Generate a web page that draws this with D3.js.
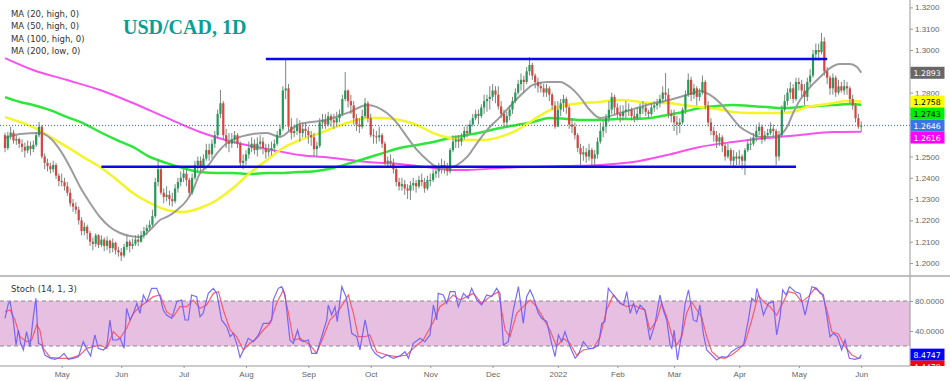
<!DOCTYPE html>
<html>
<head>
<meta charset="utf-8">
<script src="https://cdn.jsdelivr.net/npm/d3@7"></script>
<style>
  body { margin: 0; background: #fff; }
  svg { display: block; font-family: "Liberation Sans", Arial, sans-serif; }
</style>
</head>
<body>
<div id="chart"></div>
<script>
// trading days (Mon-Fri) from first to last bar
const firstDay = "2021-04-05";
const stopDay = "2022-06-02"; // exclusive
const firstOpen = 1.2600;

// daily closes, one row per week
const close = [
  1.2540, 1.2598, 1.2612, 1.2575, 1.2582,
  1.2560, 1.2545, 1.2528, 1.2550, 1.2535,
  1.2555, 1.2600, 1.2640, 1.2500, 1.2470,
  1.2455, 1.2440, 1.2460, 1.2410, 1.2385,
  1.2380, 1.2360, 1.2330, 1.2280, 1.2265,
  1.2250, 1.2200, 1.2150, 1.2170, 1.2140,
  1.2100, 1.2090, 1.2130, 1.2085, 1.2110,
  1.2080, 1.2105, 1.2070, 1.2095, 1.2060,
  1.2050, 1.2035, 1.2075, 1.2100, 1.2080,
  1.2090, 1.2110, 1.2100, 1.2130, 1.2150,
  1.2165, 1.2180, 1.2220, 1.2380, 1.2440,
  1.2330, 1.2310, 1.2320, 1.2300, 1.2290,
  1.2350, 1.2380, 1.2400, 1.2420, 1.2390,
  1.2330, 1.2400, 1.2460, 1.2480, 1.2450,
  1.2490, 1.2530, 1.2510, 1.2560, 1.2600,
  1.2700, 1.2750, 1.2600, 1.2570, 1.2560,
  1.2580, 1.2600, 1.2560, 1.2470, 1.2480,
  1.2510, 1.2540, 1.2560, 1.2530, 1.2560,
  1.2570, 1.2540, 1.2520, 1.2530, 1.2540,
  1.2560, 1.2600, 1.2630, 1.2810, 1.2820,
  1.2640, 1.2610, 1.2620, 1.2650, 1.2610,
  1.2630, 1.2620, 1.2600, 1.2590, 1.2535,
  1.2550, 1.2660, 1.2670, 1.2650, 1.2690,
  1.2670, 1.2660, 1.2680, 1.2700, 1.2770,
  1.2810, 1.2760, 1.2740, 1.2680, 1.2650,
  1.2640, 1.2690, 1.2750, 1.2680, 1.2600,
  1.2595, 1.2590, 1.2600, 1.2560, 1.2470,
  1.2480, 1.2470, 1.2440, 1.2380, 1.2360,
  1.2370, 1.2350, 1.2340, 1.2365, 1.2375,
  1.2360, 1.2390, 1.2380, 1.2350, 1.2390,
  1.2390, 1.2420, 1.2430, 1.2450, 1.2460,
  1.2450, 1.2430, 1.2530, 1.2570, 1.2580,
  1.2570, 1.2590, 1.2620, 1.2610, 1.2650,
  1.2680, 1.2700, 1.2690, 1.2730, 1.2760,
  1.2770, 1.2780, 1.2810, 1.2790, 1.2735,
  1.2700, 1.2660, 1.2690, 1.2720, 1.2760,
  1.2800, 1.2840, 1.2860, 1.2850, 1.2900,
  1.2930, 1.2880, 1.2850, 1.2830, 1.2820,
  1.2800, 1.2820, 1.2790, 1.2740, 1.2640,
  1.2720, 1.2750, 1.2770, 1.2730, 1.2650,
  1.2640, 1.2600, 1.2540, 1.2510, 1.2520,
  1.2500, 1.2530, 1.2490, 1.2510, 1.2570,
  1.2620, 1.2640, 1.2680, 1.2720, 1.2780,
  1.2730, 1.2700, 1.2690, 1.2710, 1.2720,
  1.2720, 1.2690, 1.2680, 1.2700, 1.2730,
  1.2730, 1.2710, 1.2700, 1.2730, 1.2740,
  1.2750, 1.2770, 1.2800, 1.2790, 1.2700,
  1.2690, 1.2660, 1.2650, 1.2660, 1.2720,
  1.2790, 1.2860, 1.2790, 1.2820, 1.2780,
  1.2800, 1.2850, 1.2740, 1.2660, 1.2620,
  1.2600, 1.2570, 1.2590, 1.2550, 1.2500,
  1.2530, 1.2480, 1.2500, 1.2490, 1.2500,
  1.2480, 1.2530, 1.2560, 1.2560, 1.2590,
  1.2620, 1.2640, 1.2580, 1.2600, 1.2610,
  1.2630, 1.2620, 1.2500, 1.2600, 1.2720,
  1.2760, 1.2800, 1.2820, 1.2770, 1.2850,
  1.2840, 1.2810, 1.2780, 1.2850, 1.2880,
  1.2980, 1.3000, 1.2990, 1.3040, 1.2900,
  1.2870, 1.2820, 1.2870, 1.2800, 1.2830,
  1.2810, 1.2830, 1.2820, 1.2770, 1.2740,
  1.2680, 1.2640, 1.2646
];

const high = [
  1.2612, 1.2615, 1.2640, 1.2625, 1.2600,
  1.2590, 1.2580, 1.2565, 1.2575, 1.2570,
  1.2575, 1.2615, 1.2662, 1.2648, 1.2515,
  1.2490, 1.2470, 1.2480, 1.2470, 1.2420,
  1.2420, 1.2400, 1.2380, 1.2350, 1.2300,
  1.2285, 1.2265, 1.2215, 1.2190, 1.2180,
  1.2150, 1.2120, 1.2140, 1.2135, 1.2130,
  1.2120, 1.2125, 1.2110, 1.2115, 1.2100,
  1.2075, 1.2070, 1.2090, 1.2130, 1.2110,
  1.2115, 1.2130, 1.2135, 1.2150, 1.2170,
  1.2180, 1.2200, 1.2250, 1.2400, 1.2487,
  1.2450, 1.2350, 1.2360, 1.2340, 1.2330,
  1.2370, 1.2400, 1.2430, 1.2440, 1.2440,
  1.2400, 1.2420, 1.2480, 1.2500, 1.2500,
  1.2510, 1.2560, 1.2560, 1.2580, 1.2620,
  1.2720, 1.2812, 1.2760, 1.2630, 1.2610,
  1.2610, 1.2620, 1.2610, 1.2570, 1.2510,
  1.2530, 1.2570, 1.2590, 1.2580, 1.2590,
  1.2600, 1.2590, 1.2560, 1.2560, 1.2570,
  1.2580, 1.2620, 1.2650, 1.2830, 1.2955,
  1.2840, 1.2680, 1.2650, 1.2680, 1.2670,
  1.2660, 1.2660, 1.2640, 1.2620, 1.2610,
  1.2570, 1.2680, 1.2700, 1.2700, 1.2710,
  1.2700, 1.2700, 1.2710, 1.2720, 1.2790,
  1.2897, 1.2815, 1.2790, 1.2760, 1.2700,
  1.2680, 1.2720, 1.2775, 1.2760, 1.2700,
  1.2630, 1.2620, 1.2640, 1.2610, 1.2570,
  1.2500, 1.2510, 1.2490, 1.2450, 1.2400,
  1.2400, 1.2390, 1.2370, 1.2385, 1.2400,
  1.2390, 1.2410, 1.2420, 1.2400, 1.2410,
  1.2420, 1.2440, 1.2460, 1.2470, 1.2490,
  1.2480, 1.2470, 1.2540, 1.2600, 1.2600,
  1.2600, 1.2610, 1.2640, 1.2650, 1.2670,
  1.2700, 1.2720, 1.2720, 1.2745, 1.2790,
  1.2790, 1.2830, 1.2840, 1.2830, 1.2830,
  1.2760, 1.2720, 1.2710, 1.2740, 1.2780,
  1.2820, 1.2860, 1.2890, 1.2880, 1.2920,
  1.2967, 1.2940, 1.2890, 1.2870, 1.2850,
  1.2840, 1.2840, 1.2830, 1.2800, 1.2760,
  1.2760, 1.2770, 1.2790, 1.2780, 1.2740,
  1.2680, 1.2660, 1.2610, 1.2560, 1.2550,
  1.2540, 1.2560, 1.2540, 1.2530, 1.2590,
  1.2660, 1.2670, 1.2700, 1.2760, 1.2800,
  1.2790, 1.2750, 1.2740, 1.2740, 1.2760,
  1.2750, 1.2730, 1.2720, 1.2730, 1.2750,
  1.2760, 1.2750, 1.2720, 1.2750, 1.2760,
  1.2770, 1.2790, 1.2830, 1.2892, 1.2820,
  1.2720, 1.2720, 1.2690, 1.2680, 1.2730,
  1.2810, 1.2890, 1.2875, 1.2840, 1.2830,
  1.2820, 1.2880, 1.2860, 1.2760, 1.2680,
  1.2640, 1.2620, 1.2610, 1.2600, 1.2560,
  1.2560, 1.2540, 1.2530, 1.2520, 1.2530,
  1.2510, 1.2540, 1.2580, 1.2590, 1.2610,
  1.2650, 1.2660, 1.2650, 1.2620, 1.2630,
  1.2660, 1.2650, 1.2630, 1.2620, 1.2740,
  1.2790, 1.2820, 1.2850, 1.2840, 1.2870,
  1.2870, 1.2860, 1.2840, 1.2870, 1.2910,
  1.3000, 1.3030, 1.3030, 1.3080, 1.3060,
  1.2920, 1.2880, 1.2890, 1.2880, 1.2860,
  1.2850, 1.2860, 1.2850, 1.2830, 1.2790,
  1.2750, 1.2700, 1.2665
];

const low = [
  1.2520, 1.2530, 1.2580, 1.2560, 1.2555,
  1.2540, 1.2520, 1.2495, 1.2515, 1.2505,
  1.2520, 1.2545, 1.2590, 1.2490, 1.2440,
  1.2430, 1.2420, 1.2425, 1.2395, 1.2360,
  1.2360, 1.2340, 1.2315, 1.2265, 1.2240,
  1.2230, 1.2180, 1.2130, 1.2130, 1.2110,
  1.2080, 1.2060, 1.2075, 1.2070, 1.2075,
  1.2055, 1.2060, 1.2045, 1.2050, 1.2040,
  1.2030, 1.2009, 1.2025, 1.2060, 1.2050,
  1.2065, 1.2080, 1.2080, 1.2095, 1.2115,
  1.2130, 1.2150, 1.2170, 1.2210, 1.2360,
  1.2320, 1.2280, 1.2290, 1.2270, 1.2265,
  1.2280, 1.2330, 1.2360, 1.2380, 1.2360,
  1.2310, 1.2320, 1.2390, 1.2430, 1.2420,
  1.2440, 1.2480, 1.2480, 1.2490, 1.2540,
  1.2590, 1.2680, 1.2580, 1.2540, 1.2520,
  1.2540, 1.2560, 1.2540, 1.2450, 1.2440,
  1.2460, 1.2490, 1.2520, 1.2510, 1.2500,
  1.2530, 1.2510, 1.2490, 1.2500, 1.2505,
  1.2520, 1.2550, 1.2590, 1.2620, 1.2770,
  1.2620, 1.2580, 1.2590, 1.2600, 1.2570,
  1.2590, 1.2590, 1.2560, 1.2550, 1.2500,
  1.2500, 1.2540, 1.2630, 1.2630, 1.2640,
  1.2640, 1.2630, 1.2640, 1.2660, 1.2690,
  1.2760, 1.2730, 1.2700, 1.2650, 1.2620,
  1.2610, 1.2630, 1.2680, 1.2660, 1.2590,
  1.2560, 1.2560, 1.2570, 1.2540, 1.2460,
  1.2450, 1.2450, 1.2420, 1.2360, 1.2340,
  1.2340, 1.2320, 1.2300, 1.2296, 1.2340,
  1.2330, 1.2350, 1.2360, 1.2330, 1.2340,
  1.2360, 1.2380, 1.2400, 1.2400, 1.2420,
  1.2420, 1.2410, 1.2420, 1.2520, 1.2540,
  1.2540, 1.2550, 1.2580, 1.2590, 1.2600,
  1.2640, 1.2670, 1.2650, 1.2680, 1.2700,
  1.2710, 1.2720, 1.2760, 1.2750, 1.2720,
  1.2680, 1.2640, 1.2640, 1.2670, 1.2700,
  1.2750, 1.2790, 1.2810, 1.2800, 1.2840,
  1.2880, 1.2860, 1.2820, 1.2800, 1.2800,
  1.2780, 1.2780, 1.2760, 1.2720, 1.2630,
  1.2640, 1.2690, 1.2710, 1.2700, 1.2630,
  1.2610, 1.2580, 1.2520, 1.2460, 1.2480,
  1.2470, 1.2480, 1.2450, 1.2450, 1.2490,
  1.2560, 1.2590, 1.2610, 1.2660, 1.2700,
  1.2700, 1.2680, 1.2660, 1.2670, 1.2680,
  1.2690, 1.2670, 1.2660, 1.2670, 1.2680,
  1.2700, 1.2690, 1.2680, 1.2690, 1.2710,
  1.2720, 1.2730, 1.2750, 1.2760, 1.2680,
  1.2660, 1.2620, 1.2600, 1.2610, 1.2650,
  1.2700, 1.2780, 1.2760, 1.2770, 1.2740,
  1.2760, 1.2790, 1.2720, 1.2640, 1.2600,
  1.2570, 1.2540, 1.2550, 1.2520, 1.2480,
  1.2490, 1.2460, 1.2445, 1.2460, 1.2460,
  1.2440, 1.2413, 1.2520, 1.2530, 1.2550,
  1.2570, 1.2600, 1.2560, 1.2570, 1.2590,
  1.2600, 1.2590, 1.2460, 1.2480, 1.2590,
  1.2710, 1.2740, 1.2770, 1.2750, 1.2760,
  1.2810, 1.2780, 1.2740, 1.2760, 1.2830,
  1.2870, 1.2950, 1.2950, 1.2980, 1.2880,
  1.2840, 1.2790, 1.2790, 1.2780, 1.2790,
  1.2800, 1.2790, 1.2790, 1.2750, 1.2720,
  1.2660, 1.2630, 1.2616
];

// moving averages: [bar, price]
const ma20High = [[0,1.2587],[5.3,1.2606],[12.3,1.2610],[15.9,1.2587],[19.4,1.2531],[22.9,1.2451],[26.5,1.2357],[30,1.2282],[33.5,1.2216],[37,1.2169],[40.6,1.2141],[44.1,1.2127],[47.6,1.2122],[50,1.2141],[52.2,1.2169],[54.7,1.2202],[57.1,1.2216],[60.7,1.2249],[64.2,1.2296],[66.3,1.2343],[68.8,1.2423],[71.3,1.2451],[74.8,1.2516],[78.3,1.2563],[82.9,1.2592],[87.5,1.2606],[92.4,1.2610],[97,1.2592],[101.6,1.2634],[104,1.2653],[111,1.2667],[115.7,1.2681],[121.7,1.2709],[127.7,1.2742],[131.2,1.2732],[134.7,1.2704],[138.3,1.2657],[141.8,1.2592],[145.3,1.2531],[148.9,1.2484],[152.4,1.2451],[155.9,1.2446],[159.4,1.2460],[163,1.2498],[166.5,1.2563],[170,1.2624],[174.6,1.2685],[179.2,1.2751],[182.7,1.2798],[186.2,1.2836],[191.2,1.2850],[195.8,1.2850],[199.3,1.2826],[202.8,1.2779],[206.3,1.2718],[209.9,1.2681],[216.9,1.2704],[226.5,1.2742],[235.6,1.2770],[242.7,1.2798],[245.1,1.2808],[248.7,1.2789],[252.2,1.2751],[255.7,1.2695],[259.3,1.2638],[262.8,1.2610],[266.3,1.2592],[269.8,1.2592],[273.4,1.2601],[275.8,1.2638],[278,1.2704],[280.4,1.2765],[284,1.2826],[287.5,1.2873],[291,1.2915],[294.5,1.2934],[298,1.2934],[300.5,1.2920],[302,1.2893]];
const ma50High = [[0,1.2685],[5.3,1.2662],[9.9,1.2638],[15.9,1.2592],[21.9,1.2545],[27.5,1.2498],[33.5,1.2451],[39.5,1.2390],[45.1,1.2329],[51.1,1.2282],[57.1,1.2249],[62.8,1.2239],[68.8,1.2258],[74.8,1.2296],[80.4,1.2352],[86.4,1.2423],[92.4,1.2484],[98.1,1.2540],[104,1.2577],[111,1.2610],[115.7,1.2634],[121.7,1.2662],[127.7,1.2681],[133.3,1.2681],[139.3,1.2671],[145.3,1.2648],[151,1.2610],[157,1.2587],[163,1.2577],[168.6,1.2577],[174.6,1.2592],[180.6,1.2624],[186.2,1.2671],[192.2,1.2718],[198.2,1.2742],[203.9,1.2751],[209.9,1.2756],[215.9,1.2765],[221.5,1.2761],[227.5,1.2751],[233.5,1.2751],[239.2,1.2742],[245.1,1.2732],[251.1,1.2723],[256.8,1.2709],[262.8,1.2704],[268.8,1.2704],[273.4,1.2704],[278,1.2709],[282.9,1.2732],[287.5,1.2742],[292.1,1.2751],[297,1.2761],[302,1.2758]];
const ma100High = [[0,1.2779],[5.3,1.2756],[9.9,1.2742],[15.9,1.2718],[21.9,1.2685],[27.5,1.2657],[33.5,1.2615],[39.5,1.2577],[45.1,1.2545],[51.1,1.2498],[57.1,1.2469],[62.8,1.2446],[68.8,1.2427],[74.8,1.2423],[80.4,1.2423],[86.4,1.2418],[92.4,1.2423],[98.1,1.2423],[104,1.2427],[110,1.2432],[115.7,1.2446],[121.7,1.2469],[127.7,1.2493],[133.3,1.2516],[139.3,1.2540],[145.3,1.2554],[151,1.2568],[157,1.2587],[163,1.2601],[168.6,1.2615],[174.6,1.2634],[180.6,1.2648],[186.2,1.2662],[192.2,1.2681],[198.2,1.2676],[203.9,1.2671],[209.9,1.2671],[215.9,1.2676],[221.5,1.2676],[227.5,1.2681],[233.5,1.2695],[239.2,1.2709],[245.1,1.2728],[251.1,1.2737],[256.8,1.2742],[262.8,1.2737],[268.8,1.2732],[274.4,1.2728],[280.4,1.2732],[286.4,1.2737],[292.1,1.2742],[298,1.2746],[302,1.2743]];
const ma200Low = [[0,1.2962],[9.9,1.2906],[21.9,1.2859],[33.5,1.2812],[45.1,1.2751],[57.1,1.2681],[68.8,1.2615],[80.4,1.2568],[92.4,1.2535],[104,1.2507],[115.7,1.2493],[127.7,1.2474],[139.3,1.2465],[151,1.2446],[157,1.2437],[163,1.2437],[174.6,1.2446],[186.2,1.2451],[198.2,1.2455],[209.9,1.2460],[221.5,1.2474],[233.5,1.2507],[245.1,1.2545],[256.8,1.2568],[268.8,1.2587],[280.4,1.2601],[292.1,1.2615],[302,1.2616]];

// stochastic (14,1,3): [bar, value]
const stochK = [[0,56.9],[1.2,76.9],[1.8,79.1],[2.9,54.7],[3.9,21.3],[4.7,41.3],[5.5,23.6],[6.5,14.7],[7.6,39.1],[8.8,19.1],[10,59.1],[10.9,83.6],[11.8,23.6],[12.9,21.3],[14.1,8],[15.9,3.6],[17.6,2.2],[19.4,4.9],[20.8,10.2],[22.3,2.2],[24.1,3.6],[25.9,5.8],[27.6,25.8],[29,14.7],[30.2,6.7],[31.7,34.7],[32.9,16.9],[34.7,14.7],[35.9,19.1],[37,54.7],[38,28],[39.4,28],[40.6,30.2],[42,16.9],[42.9,70.2],[44.1,54.7],[45.3,63.6],[46.5,76.9],[47.6,63.6],[48.8,88],[50,79.1],[51.7,96.9],[53.5,96.9],[54.7,85.8],[55.8,68],[57,61.3],[58.8,56.9],[60.6,79.1],[62.3,81.3],[63.5,54.7],[64.7,54.7],[65.8,88],[67.6,85.8],[68.8,59.1],[69.9,63.6],[71.7,90.2],[73.5,96.9],[74.7,90.2],[76.4,54.7],[78.2,45.8],[79.4,32.4],[80.5,36.9],[81.7,23.6],[82.9,4.9],[84.1,14.7],[85.8,30.2],[87.6,25.8],[89.4,34.7],[91.1,50.2],[92.9,50.2],[94.1,54.7],[94.6,81.3],[96.4,96.9],[97.6,99.1],[98.8,88],[100.5,28],[101.7,23.6],[103.2,41.3],[104.1,28],[105.2,25.8],[107,28],[108.2,10.2],[109.9,10.2],[111.7,32.4],[113.5,54.7],[114,74.7],[115.2,61.3],[116.4,72.4],[117.2,52.4],[118.8,99.1],[120.5,83.6],[122.3,36.9],[124.1,32.4],[125.2,14.7],[127,54.7],[128.2,32.4],[129.3,16.9],[130.5,10.2],[132.9,3.6],[134.6,8],[137,3.6],[139.3,6.7],[141.1,12.4],[142.3,3.6],[144,23.6],[146.4,30.2],[148.1,25.8],[149.9,34.7],[151.1,74.7],[152.3,54.7],[152.8,90.2],[154.6,88],[155.8,76.9],[157,92.4],[158.7,92.4],[159.9,72.4],[161.7,90.2],[163.4,83.6],[164.6,96.9],[166.4,81.3],[168.1,74.7],[169.9,88],[171.7,85.8],[173.4,96.9],[174.6,90.2],[175.8,21.3],[177.5,25.8],[179.3,68],[181.1,99.1],[182.8,50.2],[184,85.8],[185.2,94.7],[186.3,85.8],[188.1,63.6],[189.3,56.9],[191.1,52.4],[192.8,23.6],[194,5.8],[195.2,34.7],[196.4,25.8],[197.5,39.1],[199.3,19.1],[201.1,3.6],[202.2,8],[204,25.8],[205.8,16.9],[207.5,16.9],[209.3,21.3],[210.5,50.2],[211.6,52.4],[212.8,96.9],[214.6,88],[217,76.9],[218.2,74.7],[219.3,92.4],[220.5,63.6],[221.7,76.9],[222.8,63.6],[224,74.7],[225.7,68],[227.5,28],[229.3,50.2],[231,88],[232.2,68],[233.4,54.7],[234.6,21.3],[235.2,16.9],[236,41.3],[237.2,1.3],[238.7,36.9],[239.9,76.9],[241.1,94.7],[242.8,54.7],[244,52.4],[245.1,74.7],[246.3,36.9],[247.5,14.7],[249.3,8],[251,1.3],[252.8,5.8],[254.6,4.9],[256.3,12.4],[258.1,16.9],[260.5,21.3],[262.2,54.7],[263.4,83.6],[264.6,79.1],[265.2,96.9],[266.4,81.3],[267.5,61.3],[269.3,76.9],[271,79.1],[272.2,34.7],[273.4,59.1],[274.3,94.7],[275.5,88],[276.7,99.1],[278.7,92.4],[280.4,90.2],[282.2,61.3],[283.4,81.3],[284.6,99.1],[286.3,96.9],[287.5,90.2],[288.7,88],[291,32.4],[292.2,36.9],[293.6,32.4],[295.1,14.7],[296.3,28],[297.8,3.6],[299.8,2.2],[301.3,3.6],[302,8.4747]];
const stochD = [[0,65.8],[1.8,68],[3.5,54.7],[5.3,32.4],[7.6,25.8],[9.4,28],[11.2,48],[12.3,41.3],[13.5,16.9],[15.9,4.9],[19.4,3.6],[22.9,3.6],[26.5,8],[28.8,16.9],[31.2,19.1],[33.5,21.3],[35.9,16.9],[38.2,39.1],[40.6,30.2],[42.9,43.6],[45.3,63.6],[47.6,72.4],[50,79.1],[52.3,85.8],[54.7,88],[57,65.8],[59.4,59.1],[61.7,72.4],[64.1,72.4],[66.4,81.3],[68.8,70.2],[71.1,74.7],[73.5,90.2],[75.3,92.4],[77,68],[79.4,41.3],[81.7,32.4],[84.1,14.7],[86.4,23.6],[88.8,30.2],[91.1,41.3],[93.5,50.2],[95.8,76.9],[98.2,94.7],[100,63.6],[101.7,28],[104.1,30.2],[107.6,21.3],[109.9,10.2],[112.3,32.4],[114.6,54.7],[117,63.6],[119.3,76.9],[121.1,88],[122.9,63.6],[124.6,32.4],[127,32.4],[128.7,34.7],[131.1,12.4],[134.6,8],[138.2,5.8],[141.7,8],[144,16.9],[147.5,28],[151.1,52.4],[153.4,72.4],[155.8,79.1],[158.1,88],[160.5,81.3],[162.9,85.8],[165.2,90.2],[168.1,76.9],[171.1,85.8],[174,92.4],[176.4,41.3],[178.1,32.4],[180.5,63.6],[182.8,72.4],[185.2,81.3],[187.5,72.4],[189.9,56.9],[192.2,41.3],[194.6,19.1],[196.9,30.2],[199.3,23.6],[201.6,8],[204,14.7],[207.5,16.9],[209.9,32.4],[212.2,68],[214.6,88],[217,76.9],[219.3,72.4],[221.7,74.7],[224,70.2],[225.7,68],[227.5,41.3],[229.9,54.7],[231.6,76.9],[233.4,59.1],[235.2,34.7],[236.9,21.3],[238.7,32.4],[240.4,63.6],[242.2,79.1],[244,68],[245.7,59.1],[247.5,32.4],[249.3,12.4],[251.6,4.9],[253.9,3.6],[256.3,8],[258.6,14.7],[261,23.6],[263.4,54.7],[265.7,88],[267.5,79.1],[269.8,72.4],[272.2,61.3],[274.5,79.1],[276.3,92.4],[278.7,90.2],[281,79.1],[283.4,85.8],[285.7,96.9],[288.1,90.2],[289.9,68],[291.6,39.1],[294,35.6],[296.3,19.1],[298.7,8],[301,3.6],[302,4.4478]];

// drawn support / resistance lines
const levelPrice = [1.2958, 1.2452];
const levelFrom = ["2021-08-11", "2021-05-21"];
const levelTo = ["2022-05-16", "2022-04-29"];

// axis ticks
const priceTicks = [1.20, 1.21, 1.22, 1.23, 1.24, 1.25, 1.26, 1.27, 1.28, 1.29, 1.30, 1.31, 1.32];
const stochTicks = [40, 80];
const monthDates = ["2021-05-03","2021-06-01","2021-07-01","2021-08-02","2021-09-01","2021-10-01","2021-11-01","2021-12-01","2022-01-03","2022-02-01","2022-03-01","2022-04-01","2022-05-02","2022-06-01"];
const monthLabels = ["May","Jun","Jul","Aug","Sep","Oct","Nov","Dec","2022","Feb","Mar","Apr","May","Jun"];

const legendLabels = ["MA (20, high, 0)", "MA (50, high, 0)", "MA (100, high, 0)", "MA (200, low, 0)"];

// ---------------------------------------------------------------
const W = 950, H = 381, axisX = 910;
const parseDate = d3.timeParse("%Y-%m-%d");
const fmtDate = d3.timeFormat("%Y-%m-%d");
const days = d3.timeDay.range(parseDate(firstDay), parseDate(stopDay))
  .filter(d => d.getDay() !== 0 && d.getDay() !== 6);
const barOf = s => days.findIndex(d => fmtDate(d) === s);

const svg = d3.select("#chart").append("svg").attr("width", W).attr("height", H);

const x = d3.scaleLinear().domain([0, close.length - 1]).range([5, 861.2]);
const y = d3.scaleLinear().domain([1.2, 1.3]).range([263, 50]);
const ys = d3.scaleLinear().domain([0, 100]).range([361, 286]);

const defs = svg.append("defs");
defs.append("clipPath").attr("id", "clipPrice").append("rect")
  .attr("x", 0).attr("y", 0).attr("width", axisX).attr("height", 275);
defs.append("clipPath").attr("id", "clipStoch").append("rect")
  .attr("x", 0).attr("y", 277).attr("width", W).attr("height", 89);

// ---------- price panel ----------
const price = svg.append("g").attr("clip-path", "url(#clipPrice)");

const maLine = d3.line().x(d => x(d[0])).y(d => y(d[1])).curve(d3.curveMonotoneX);
const maSeries = [
  { data: ma200Low, color: "#f552f0", w: 2 },
  { data: ma100High, color: "#2ee63a", w: 2.5 },
  { data: ma50High, color: "#f4f42a", w: 2.5 },
  { data: ma20High, color: "#9c9c9c", w: 2 }
];
maSeries.forEach(s => {
  price.append("path").attr("d", maLine(s.data))
    .attr("fill", "none").attr("stroke", s.color).attr("stroke-width", s.w);
});

// current price dotted line
price.append("line")
  .attr("x1", 0).attr("x2", axisX)
  .attr("y1", y(close[close.length - 1])).attr("y2", y(close[close.length - 1]))
  .attr("stroke", "#2f5bea").attr("stroke-width", 1).attr("stroke-dasharray", "1,2");

// candles
const bars = close.map((c, i) => ({ i, o: i === 0 ? firstOpen : close[i - 1], h: high[i], l: low[i], c }));
const upCol = "#259a58", downCol = "#d6453f";
price.append("g").selectAll("line").data(bars).join("line")
  .attr("x1", d => x(d.i)).attr("x2", d => x(d.i))
  .attr("y1", d => y(d.h)).attr("y2", d => y(d.l))
  .attr("stroke", "#7b877f").attr("stroke-width", 1);
price.append("g").selectAll("rect").data(bars).join("rect")
  .attr("x", d => x(d.i) - 1.1).attr("width", 2.2)
  .attr("y", d => y(Math.max(d.o, d.c)))
  .attr("height", d => Math.max(1, Math.abs(y(d.o) - y(d.c))))
  .attr("fill", d => d.c >= d.o ? upCol : downCol);

// support / resistance
levelPrice.forEach((p, k) => {
  price.append("line")
    .attr("x1", x(barOf(levelFrom[k]))).attr("x2", x(barOf(levelTo[k])))
    .attr("y1", y(p)).attr("y2", y(p))
    .attr("stroke", "#0a0ae6").attr("stroke-width", 2.5);
});

// legend + title
svg.append("g").selectAll("text").data(legendLabels).join("text")
  .attr("x", 11).attr("y", (d, k) => 17 + k * 12.3)
  .attr("font-family", "DejaVu Sans").attr("font-size", 8.5).attr("fill", "#333")
  .text(d => d);
svg.append("text").attr("x", 123).attr("y", 34)
  .attr("font-family", "Liberation Serif").attr("font-weight", "bold").attr("font-size", 20)
  .attr("fill", "#0a9e96").text("USD/CAD, 1D");

// ---------- stochastic panel ----------
const stoch = svg.append("g").attr("clip-path", "url(#clipStoch)");
stoch.append("rect").attr("x", 0).attr("width", axisX)
  .attr("y", ys(80)).attr("height", ys(20) - ys(80)).attr("fill", "#e6bfe1");
[80, 20].forEach(v => {
  stoch.append("line").attr("x1", 0).attr("x2", axisX).attr("y1", ys(v)).attr("y2", ys(v))
    .attr("stroke", "#8a8a8a").attr("stroke-dasharray", "4,3");
});
const stLine = d3.line().x(d => x(d[0])).y(d => ys(d[1]));
stoch.append("path").attr("d", stLine(stochD)).attr("fill", "none")
  .attr("stroke", "#ff4f63").attr("stroke-width", 1.2).attr("opacity", 0.9);
stoch.append("path").attr("d", stLine(stochK)).attr("fill", "none")
  .attr("stroke", "#6b5cf6").attr("stroke-width", 1.2).attr("opacity", 0.9);
svg.append("text").attr("x", 11).attr("y", 292)
  .attr("font-family", "DejaVu Sans").attr("font-size", 8.5).attr("fill", "#333")
  .text("Stoch (14, 1, 3)");

// ---------- last value tags (positions first, so covered tick labels can be dropped) ----------
function stack(list, scale) {
  list.sort((a, b) => scale(a.v) - scale(b.v));
  let prev = -Infinity;
  list.forEach(t => { t.cy = Math.max(scale(t.v), prev + 12); prev = t.cy; });
  return list;
}
const last = a => a[a.length - 1][1];
const priceTags = stack([
  { v: last(ma20High), bg: "#676767", fg: "#fff" },
  { v: last(ma50High), bg: "#ffff00", fg: "#000" },
  { v: last(ma100High), bg: "#00ee00", fg: "#000" },
  { v: close[close.length - 1], bg: "#3777e3", fg: "#fff" },
  { v: last(ma200Low), bg: "#ff00ff", fg: "#fff" }
], y);
const stochTagList = stack([
  { v: last(stochK), bg: "#0000ff", fg: "#fff" },
  { v: last(stochD), bg: "#ff0000", fg: "#fff" }
], ys);

// ---------- axes & frame ----------
const styleAxis = g => {
  g.attr("font-family", "Liberation Sans, Arial, sans-serif").attr("font-size", 8);
  g.select(".domain").remove();
  g.selectAll("line").attr("stroke", "#999");
  g.selectAll("text").attr("fill", "#666");
};
const hidden = (pos, tagsList) => tagsList.some(t => Math.abs(t.cy - pos) < 8.5);
svg.append("g").attr("transform", `translate(${axisX},0)`)
  .call(d3.axisRight(y).tickValues(priceTicks).tickFormat(d3.format(".4f")).tickSize(3).tickPadding(2))
  .call(styleAxis)
  .call(g => g.selectAll(".tick text").filter(d => hidden(y(d), priceTags)).remove());
svg.append("g").attr("transform", `translate(${axisX},0)`)
  .call(d3.axisRight(ys).tickValues(stochTicks).tickFormat(d3.format(".4f")).tickSize(3).tickPadding(2))
  .call(styleAxis);
svg.append("g").attr("transform", "translate(0,366)")
  .call(d3.axisBottom(x).tickValues(monthDates.map(barOf)).tickFormat((d, k) => monthLabels[k]).tickSize(2).tickPadding(3))
  .call(styleAxis);

svg.append("line").attr("x1", axisX).attr("x2", axisX).attr("y1", 0).attr("y2", 366).attr("stroke", "#999");
svg.append("line").attr("x1", 0).attr("x2", W).attr("y1", 276).attr("y2", 276).attr("stroke", "#aaa").attr("stroke-width", 1.5);
svg.append("line").attr("x1", 0).attr("x2", axisX).attr("y1", 366).attr("y2", 366).attr("stroke", "#999");

function drawTags(group, list) {
  list.forEach(t => {
    group.append("rect").attr("x", axisX + 0.5).attr("y", t.cy - 6).attr("width", 34).attr("height", 12).attr("fill", t.bg);
    group.append("text").attr("x", axisX + 3.5).attr("y", t.cy + 3)
      .attr("font-family", "DejaVu Sans").attr("font-size", 7.8).attr("fill", t.fg)
      .text(d3.format(".4f")(t.v));
  });
}
drawTags(svg.append("g"), priceTags);
drawTags(svg.append("g").attr("clip-path", "url(#clipStoch)"), stochTagList);
</script>
</body>
</html>
